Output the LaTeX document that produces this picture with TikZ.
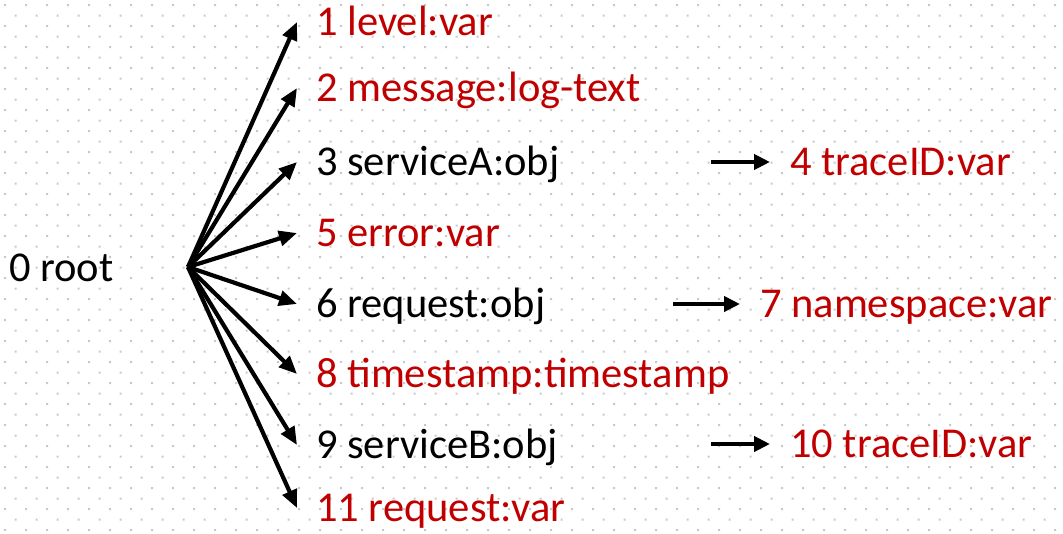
\documentclass[tikz,border=0pt]{standalone}
\usepackage{fontspec}
\setmainfont{Carlito}
\usetikzlibrary{arrows.meta}
\definecolor{keyred}{RGB}{192,0,0}
\definecolor{griddot}{RGB}{200,200,200}
\begin{document}
\begin{tikzpicture}[x=1pt,y=-1pt,
  lbl/.style={anchor=base west,inner sep=0pt,text height=26pt,text depth=0pt,font=\fontsize{42.5}{46}\selectfont},
  var/.style={lbl,text=keyred},
  obj/.style={lbl,text=black},
  fan/.style={line width=4.2pt,-{Triangle[length=18pt,width=15pt]}},
  link/.style={line width=4pt,-{Triangle[length=16pt,width=15pt]}}]
\useasboundingbox (0,0) rectangle (1063,533);
% staggered dot grid
\fill[griddot]
  \foreach \i in {0,...,25}{\foreach \j in {0,...,50}{(4+21*\j,4+21*\i) rectangle ++(2.2,2.2)}}
  \foreach \i in {0,...,24}{\foreach \j in {0,...,50}{(14.5+21*\j,14.5+21*\i) rectangle ++(2.2,2.2)}};
% labels
\node[obj] (n0) at (9,281) {0 root};
\node[var] (n1) at (316,35) {1 level:var};
\node[var] (n2) at (316,101) {2 message:log-text};
\node[obj] (n3) at (316,175) {3 serviceA:obj};
\node[var] (n4) at (790,175) {4 traceID:var};
\node[var] (n5) at (316,246) {5 error:var};
\node[obj] (n6) at (316,317) {6 request:obj};
\node[var] (n7) at (760,317) {7 namespace:var};
\node[var] (n8) at (316,387) {8 timestamp:timestamp};
\node[obj] (n9) at (316,458) {9 serviceB:obj};
\node[var] (n10) at (790,457) {10 traceID:var};
\node[var] (n11) at (316,521) {11 request:var};
% fan out from the root
\coordinate (hub) at (188,267);
\foreach \k in {1,2,3,5,6,8,9,11}{\draw[fan] (hub) -- ([xshift=-19pt]n\k.west);}
% object fields
\coordinate (s3) at (711,162);
\coordinate (s6) at (673,304);
\coordinate (s9) at (711,444);
\draw[link] (s3) -- ([xshift=-20pt]n4.west);
\draw[link] (s6) -- ([xshift=-20pt]n7.west);
\draw[link] (s9) -- ([xshift=-20pt]n10.west);
\end{tikzpicture}
\end{document}
